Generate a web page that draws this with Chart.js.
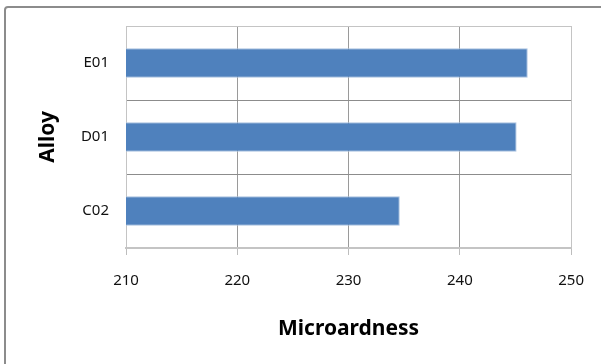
<!DOCTYPE html>
<html>
<head>
<meta charset="utf-8">
<script src="https://cdn.jsdelivr.net/npm/chart.js@4.4.0/dist/chart.umd.min.js"></script>
<style>
    body { margin: 0; background: #fff; }
</style>
</head>
<body>
<canvas id="main-chart" width="601" height="364"></canvas>
<script>
    const alloys = ['E01', 'D01', 'C02'];
    const hardness = [246.1, 245.1, 234.6];
    const xTicks = [210, 220, 230, 240, 250];

    const FONT = '"Noto Sans", "Open Sans", sans-serif';

    // grey frame round the whole chart, runs off the right and bottom edge
    const frame = {
        id: 'frame',
        beforeDraw(chart) {
            const ctx = chart.ctx;
            ctx.save();
            ctx.strokeStyle = '#8c8c8c';
            ctx.lineWidth = 2;
            ctx.beginPath();
            ctx.moveTo(5, 400);
            ctx.lineTo(5, 10);
            ctx.quadraticCurveTo(5, 7, 8, 7);
            ctx.lineTo(700, 7);
            ctx.stroke();
            ctx.restore();
        }
    };

    new Chart(document.getElementById('main-chart'), {
        type: 'bar',
        data: {
            labels: alloys,
            datasets: [{
                data: hardness,
                backgroundColor: '#4F81BD',
                borderColor: '#a9c1e0',
                borderWidth: 1,
                borderSkipped: 'start',
                barPercentage: 0.4,
                categoryPercentage: 1
            }]
        },
        options: {
            indexAxis: 'y',
            responsive: false,
            animation: false,
            layout: { padding: { top: 24, right: 28.5, left: 0, bottom: 0 } },
            plugins: {
                legend: { display: false },
                tooltip: { enabled: false }
            },
            scales: {
                x: {
                    min: xTicks[0],
                    max: xTicks[xTicks.length - 1],
                    afterBuildTicks: scale => {
                        scale.ticks = xTicks.map(v => ({ value: v }));
                    },
                    afterFit: scale => { scale.height = 116; },
                    ticks: {
                        padding: 17,
                        color: '#111',
                        font: { family: FONT, size: 15 }
                    },
                    grid: {
                        color: c => (c.index === xTicks.length - 1 ? '#c4c4c4' : '#9a9a9a'),
                        tickColor: '#bdbdbd',
                        tickLength: 7
                    },
                    border: { color: '#c4c4c4', width: 2 },
                    title: {
                        display: true,
                        text: 'Microardness',
                        color: '#000',
                        font: { family: FONT, size: 21, weight: 'bold' },
                        padding: { top: 0, bottom: 22 }
                    }
                },
                y: {
                    afterFit: scale => { scale.width = 126; },
                    ticks: {
                        padding: 17,
                        color: '#111',
                        font: { family: FONT, size: 15 }
                    },
                    grid: {
                        color: c => (c.index === 0 ? '#c4c4c4' : '#8c8c8c'),
                        drawTicks: false
                    },
                    border: { color: '#c4c4c4', width: 1 },
                    title: {
                        display: true,
                        text: 'Alloy',
                        color: '#000',
                        font: { family: FONT, size: 21, weight: 'bold' },
                        padding: { top: 35, bottom: 0 }
                    }
                }
            }
        },
        plugins: [frame]
    });
</script>
</body>
</html>
